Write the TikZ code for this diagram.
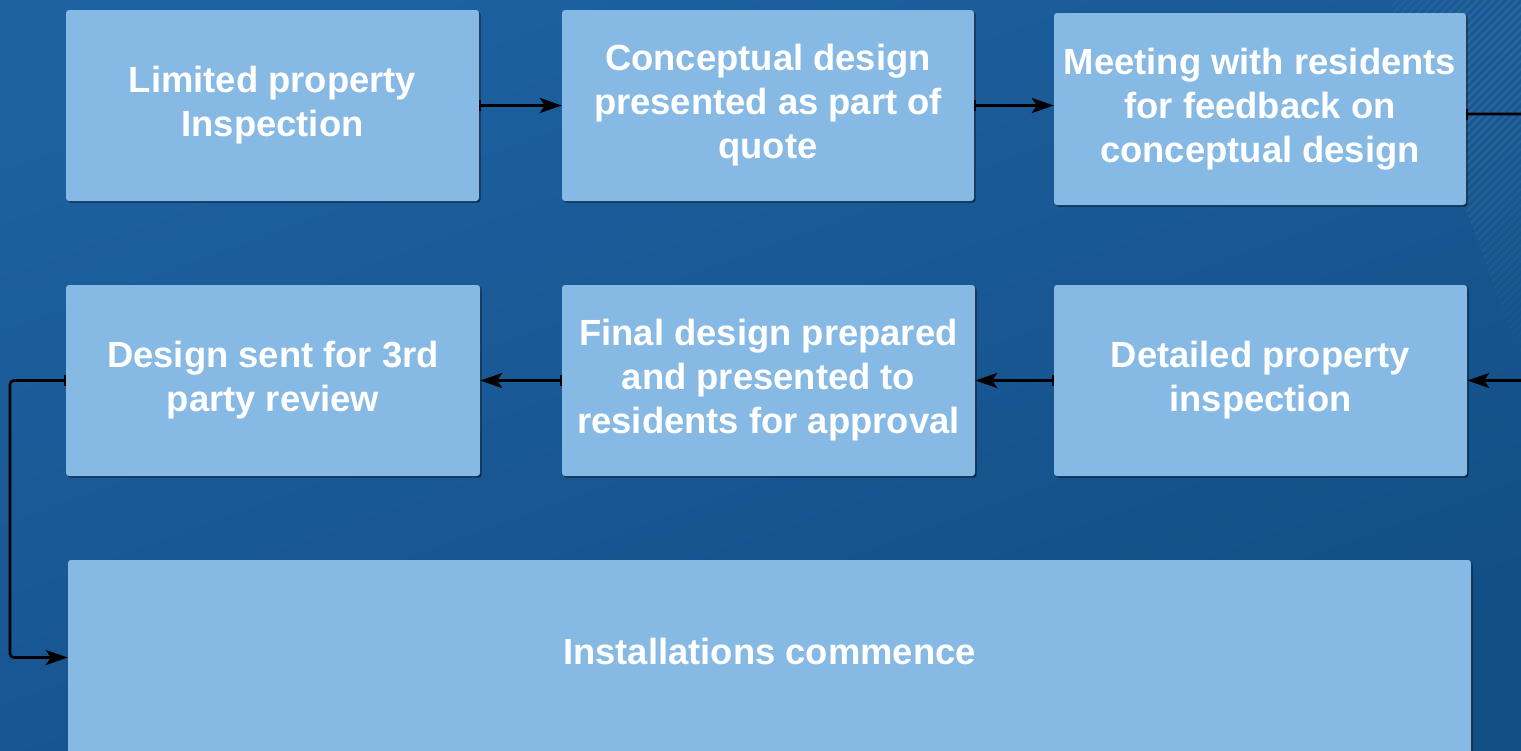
\documentclass[tikz,border=0pt]{standalone}
\usepackage{fontspec}
\setmainfont{Liberation Sans}
\usetikzlibrary{arrows.meta,shadows}

\definecolor{bgtop}{RGB}{29,97,161}
\definecolor{bgbot}{RGB}{19,78,133}
\definecolor{boxfill}{RGB}{134,185,227}

\tikzset{
  stage/.style={fill=boxfill, rounded corners=3pt, inner sep=0pt,
    align=center, text=white,
    font=\bfseries\fontsize{36.4}{44}\selectfont,
    drop shadow={shadow xshift=1.6pt, shadow yshift=-1.6pt, opacity=0.5, fill=black}},
  flow/.style={line width=2.6pt, draw=black,
    {Bar[width=11pt,line width=1.4pt]}-{Stealth[length=22pt,width=15pt,inset=5pt]}}
}

\begin{document}
\begin{tikzpicture}[x=1pt,y=-1pt]
  \useasboundingbox (0,0) rectangle (1521,750);
  \clip (0,0) rectangle (1521,750);

  % background
  \shade[top color=bgtop, bottom color=bgbot, shading angle=20] (0,0) rectangle (1521,750);

  % faint diagonal stripes in the upper right corner, fading out with distance
  \begin{scope}
    \clip (1390,0) -- (1521,0) -- (1521,360) -- cycle;
    \foreach \c in {1390,1398,...,1900} {
      \pgfmathsetmacro\op{0.09*max(0,1-abs(\c-1570)/340)}
      \draw[white, opacity=\op, line width=2.4pt] (\c,0) -- ++(-520,520);
    }
  \end{scope}

  % process stages
  \node[stage, minimum width=413pt, minimum height=191pt] (A) at (272.5,105.5)
    {Limited property\\Inspection};
  \node[stage, minimum width=412pt, minimum height=191pt] (B) at (768,105.5)
    {Conceptual design\\presented as part of\\quote};
  \node[stage, minimum width=412pt, minimum height=192pt] (C) at (1260,109)
    {Meeting with residents\\for feedback on\\conceptual design};
  \node[stage, minimum width=414pt, minimum height=191pt] (D) at (273,380.5)
    {Design sent for 3rd\\party review};
  \node[stage, minimum width=413pt, minimum height=191pt] (E) at (768.5,380.5)
    {Final design prepared\\and presented to\\residents for approval};
  \node[stage, minimum width=413pt, minimum height=191pt] (F) at (1260.5,380.5)
    {Detailed property\\inspection};
  \node[stage, minimum width=1403pt, minimum height=195pt] (G) at (769.5,657.5)
    {\raisebox{12pt}{Installations commence}};

  % connectors
  \coordinate (cR) at (1535,114);
  \coordinate (dL) at (10,0);
  \draw[flow] (A.east) -- (B.west);
  \draw[flow] (B.east) -- (B.east -| C.west);
  \draw[flow, rounded corners=4pt] (C.east |- cR) -- (cR) |- (F.east);
  \draw[flow] (F.west) -- (E.east);
  \draw[flow] (E.west) -- (D.east);
  \draw[flow, rounded corners=4pt] (D.west) -- (D.west -| dL) |- (G.west);
\end{tikzpicture}
\end{document}
